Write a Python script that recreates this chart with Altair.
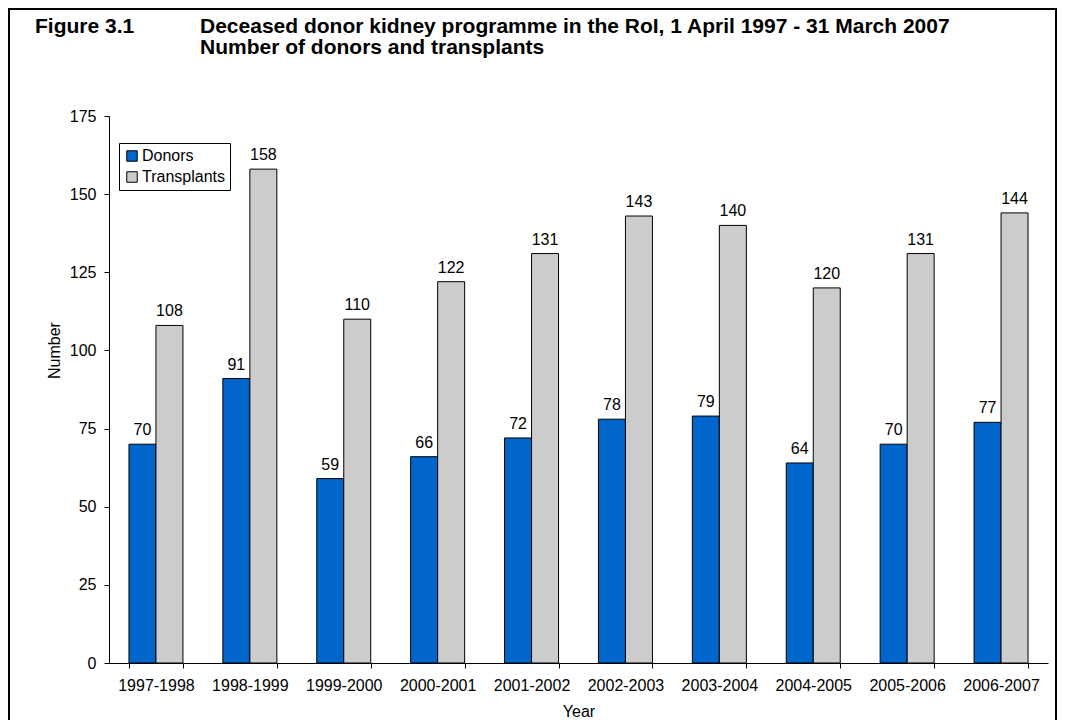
import altair as alt
import pandas as pd

years = ["1997-1998", "1998-1999", "1999-2000", "2000-2001", "2001-2002",
         "2002-2003", "2003-2004", "2004-2005", "2005-2006", "2006-2007"]
donors = [70, 91, 59, 66, 72, 78, 79, 64, 70, 77]
transplants = [108, 158, 110, 122, 131, 143, 140, 120, 131, 144]
series = ["Donors", "Transplants"]
colors = ["#0066CC", "#CCCCCC"]
y_ticks = [0, 25, 50, 75, 100, 125, 150, 175]

rows = []
for i, yr in enumerate(years):
    rows.append({"Year": yr, "Series": series[0], "Number": donors[i]})
    rows.append({"Year": yr, "Series": series[1], "Number": transplants[i]})
df = pd.DataFrame(rows)

FONT = "Liberation Sans"
FS = 16

base = alt.Chart(df).encode(
    x=alt.X("Year:N", sort=years,
            scale=alt.Scale(paddingInner=0.425, paddingOuter=0.2125),
            axis=alt.Axis(title="Year", labelAngle=0, tickBand="extent",
                          tickSize=5, labelPadding=9, labelFontSize=FS,
                          titleFontSize=FS, titleFontWeight="normal",
                          titleY=53, titleBaseline="alphabetic")),
    xOffset=alt.XOffset("Series:N", sort=series,
                        scale=alt.Scale(paddingInner=0, paddingOuter=0)),
    y=alt.Y("Number:Q", scale=alt.Scale(domain=[0, 175], nice=False),
            axis=alt.Axis(title="Number", values=y_ticks, grid=False,
                          tickSize=5, labelPadding=8, labelFontSize=FS,
                          titleFontSize=FS, titleFontWeight="normal",
                          titleX=-55, titleY=234, titleAngle=-90,
                          titleAlign="center", titleBaseline="middle")),
)

bars = base.mark_bar(stroke="black", strokeWidth=1).encode(
    color=alt.Color("Series:N", sort=series,
                    scale=alt.Scale(domain=series, range=colors),
                    legend=alt.Legend(title=None, orient="none",
                                      legendX=10, legendY=27,
                                      fillColor="white", strokeColor="black",
                                      padding=5, symbolType="square",
                                      symbolSize=110, symbolStrokeColor="black",
                                      symbolStrokeWidth=1, labelFontSize=FS,
                                      rowPadding=5, labelOffset=2))
)

labels = base.mark_text(dy=-9, baseline="alphabetic", fontSize=FS,
                        font=FONT, color="black").encode(text="Number:Q")

frame_df = pd.DataFrame({"k": [0]})
frame = alt.Chart(frame_df).mark_rect(filled=False, stroke="black",
                                      strokeWidth=2).encode(
    x=alt.value(-100), x2=alt.value(947), y=alt.value(-107), y2=alt.value(700)
)

fig_df = pd.DataFrame({"t": ["Figure 3.1"]})
fig_label = alt.Chart(fig_df).mark_text(align="left", baseline="alphabetic",
                                        fontSize=21, fontWeight="bold",
                                        font=FONT, color="black").encode(
    text="t:N", x=alt.value(-74), y=alt.value(-83)
)

title_df = pd.DataFrame({"t": ["Deceased donor kidney programme in the RoI, 1 April 1997 - 31 March 2007",
                               "Number of donors and transplants"]})
title_lines = alt.Chart(title_df.iloc[[0]]).mark_text(
    align="left", baseline="alphabetic", fontSize=21, fontWeight="bold",
    font=FONT, color="black").encode(text="t:N", x=alt.value(91), y=alt.value(-83))
title_lines2 = alt.Chart(title_df.iloc[[1]]).mark_text(
    align="left", baseline="alphabetic", fontSize=21, fontWeight="bold",
    font=FONT, color="black").encode(text="t:N", x=alt.value(91), y=alt.value(-62))

chart = alt.layer(frame, bars, labels, fig_label, title_lines, title_lines2).properties(
    width=939, height=547,
    autosize=alt.AutoSizeParams(type="none"),
    padding={"left": 101, "top": 108, "right": 9, "bottom": 57},
).configure_view(stroke=None).configure_axis(
    domainColor="black", tickColor="black", labelColor="black",
    titleColor="black", labelFont=FONT, titleFont=FONT
).configure_legend(labelFont=FONT, labelColor="black")

chart.save("out.html", embed_options={"renderer": "svg", "actions": False})
